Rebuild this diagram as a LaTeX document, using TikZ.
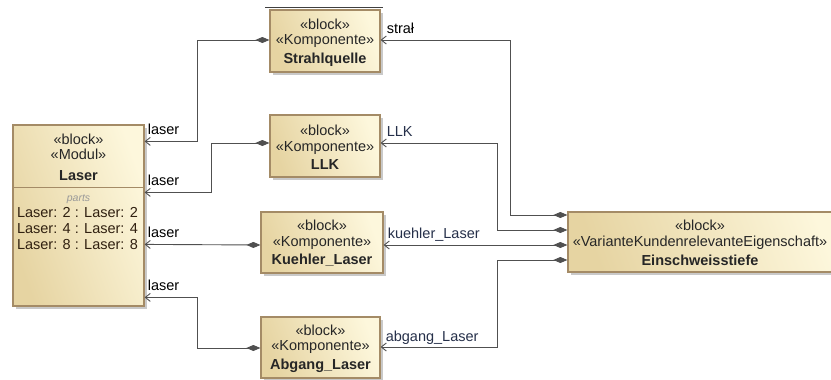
\documentclass[tikz,border=0pt]{standalone}
\usepackage{fontspec}
\setmainfont{Liberation Sans}
\usetikzlibrary{shadows,arrows.meta,calc}
\definecolor{boxA}{HTML}{E6D4A2}
\definecolor{boxB}{HTML}{FDF7DC}
\definecolor{boxline}{HTML}{A48B66}
\definecolor{conn}{HTML}{505050}
\definecolor{lbl}{HTML}{26304A}
\tikzset{
  blockbox/.style={draw=boxline, line width=1.2pt, left color=boxA, right color=boxB, shading angle=110,
    drop shadow={shadow xshift=3pt, shadow yshift=-3pt, opacity=0.35, fill=black!60},
    inner sep=0pt},
  blocktext/.style={inner sep=0pt, align=center, font=\fontsize{14.5}{15.5}\selectfont, text=black!85},
  conline/.style={draw=conn, line width=0.9pt, {Diamond[length=14pt,width=6pt,fill=conn]}-{Straight Barb[length=5pt,width=8pt]}},
  endlbl/.style={font=\fontsize{14.5}{15}\selectfont, inner sep=0pt, anchor=base west},
}
\begin{document}
\begin{tikzpicture}[x=1pt,y=-1pt]
\useasboundingbox[fill=white] (0,0) rectangle (831,380);
% thin line above Strahlquelle
\draw[black!75, line width=0.8pt] (265,7) -- (383,7);
% blocks
\node[blockbox, minimum width=131pt, minimum height=181pt] (laser) at (78.5,215.5) {};
\draw[boxline, line width=1pt] (laser.west |- 0,187) -- (laser.east |- 0,187);
\node[blocktext, anchor=north] (laserhead) at (78.5,133.5)
  {«block»\\«Modul»\\[5pt]\textbf{Laser}};
\node[font=\fontsize{10.5}{12}\itshape, text=black!40, inner sep=0pt] (partslbl) at (78.5,199) {parts};
\node[align=center, font=\fontsize{14.5}{16}\selectfont, text=black!75!brown, inner sep=0pt, anchor=north] (partsrows) at (77.5,207)
  {Laser: 2 : Laser: 2\\Laser: 4 : Laser: 4\\Laser: 8 : Laser: 8};

\node[blockbox, minimum width=110pt, minimum height=62pt] (strahl) at (325,41) {};
\node[blocktext] (strahlT) at ([yshift=-1.5pt]strahl.center) {«block»\\«Komponente»\\[3pt]\textbf{Strahlquelle}};
\node[blockbox, minimum width=110pt, minimum height=62pt] (llk) at (325,146) {};
\node[blocktext] (llkT) at ([yshift=-1.5pt]llk.center) {«block»\\«Komponente»\\[3pt]\textbf{LLK}};
\node[blockbox, minimum width=122pt, minimum height=61pt] (kuehl) at (322,242.5) {};
\node[blocktext] (kuehlT) at ([yshift=-1pt]kuehl.center) {«block»\\«Komponente»\\[3pt]\textbf{Kuehler\_Laser}};
\node[blockbox, minimum width=119pt, minimum height=61pt] (abgang) at (320.5,347.5) {};
\node[blocktext] (abgangT) at ([yshift=-1pt]abgang.center) {«block»\\«Komponente»\\[3pt]\textbf{Abgang\_Laser}};
\node[blockbox, minimum width=280pt, minimum height=60pt] (einsch) at (708,242) {};
\node[blocktext] (einschT) at ([xshift=-8pt,yshift=-1pt]einsch.center) {«block»\\«VarianteKundenrelevanteEigenschaft»\\[4pt]\textbf{Einschweisstiefe}};

% connectors to Laser
\draw[conline] (strahl.west |- 0,40) -- (197,40) |- ([yshift=-17pt]laser.north east) coordinate (l1);
\draw[conline] (llk.west |- 0,143) -- (211,143) |- ([yshift=-68pt]laser.north east) coordinate (l2);
\draw[conline] (kuehl.west |- 0,245) -- ([yshift=-120pt]laser.north east) coordinate (l3);
\draw[conline] (abgang.west |- 0,348) -- (197,348) |- ([yshift=-173pt]laser.north east) coordinate (l4);
\node[endlbl] at ([xshift=3pt,yshift=7pt]l1) {laser};
\node[endlbl] at ([xshift=3pt,yshift=7pt]l2) {laser};
\node[endlbl] at ([xshift=3pt,yshift=7pt]l3) {laser};
\node[endlbl] at ([xshift=3pt,yshift=7pt]l4) {laser};

% connectors from Einschweisstiefe
\draw[conline] (einsch.west |- 0,215) -- (510,215) |- (strahl.east |- 0,40) coordinate (r1);
\draw[conline] (einsch.west |- 0,230) -- (497,230) |- (llk.east |- 0,143) coordinate (r2);
\draw[conline] (einsch.west |- 0,245) -- (kuehl.east |- 0,245) coordinate (r3);
\draw[conline] (einsch.west |- 0,260) -- (497,260) |- (abgang.east |- 0,347) coordinate (r4);
\node[endlbl] at ([xshift=6pt,yshift=6pt]r1) {strał};
\node[endlbl, text=lbl] at ([xshift=6pt,yshift=7pt]r2) {LLK};
\node[endlbl, text=lbl] at ([xshift=4pt,yshift=7pt]r3) {kuehler\_Laser};
\node[endlbl, text=lbl] at ([xshift=5pt,yshift=6pt]r4) {abgang\_Laser};
\end{tikzpicture}
\end{document}
